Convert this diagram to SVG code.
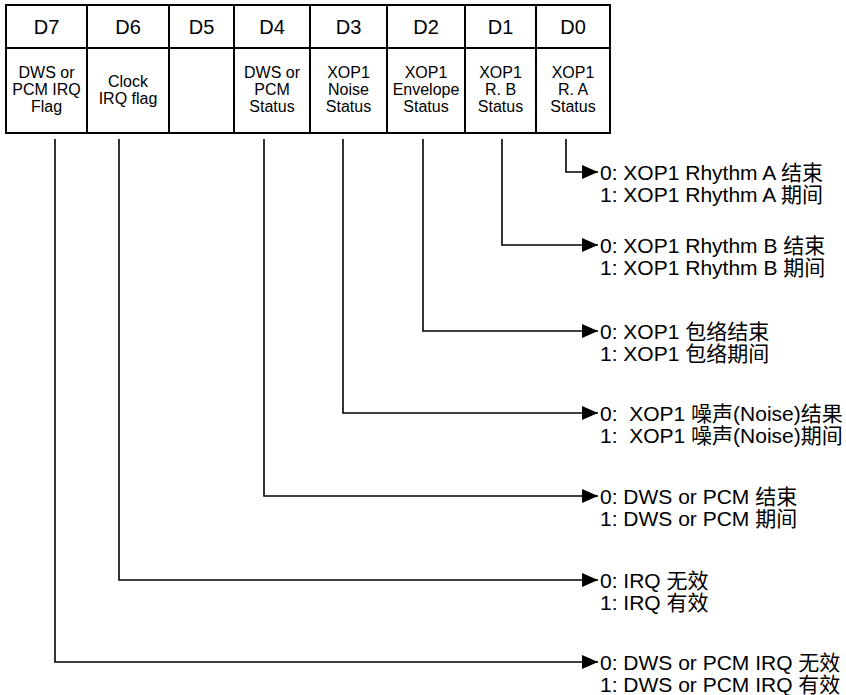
<svg xmlns="http://www.w3.org/2000/svg" width="846" height="695" viewBox="0 0 846 695">
<style>
.t{font-family:"Liberation Sans","Noto Sans CJK SC",Arial,sans-serif;fill:#000}
.h{font-size:20px;text-anchor:middle}
.c{font-size:16px;text-anchor:middle}
.r{font-size:21px}
.b{fill:none;stroke:#000;stroke-width:2}
.w{fill:none;stroke:#000;stroke-width:1.6}
</style>
<defs>
<marker id="ah" markerUnits="userSpaceOnUse" markerWidth="16" markerHeight="14" refX="16" refY="7" orient="auto">
<path d="M0,0 L16,7 L0,14 Z" fill="#000"/>
</marker>
</defs>
<rect width="846" height="695" fill="#fff"/>
<g id="table">
<rect class="b" x="6" y="5" width="604" height="128"/>
<line class="b" x1="6" y1="48" x2="610" y2="48"/>
<line class="b" x1="87" y1="5" x2="87" y2="133"/>
<line class="b" x1="169" y1="5" x2="169" y2="133"/>
<line class="b" x1="234" y1="5" x2="234" y2="133"/>
<line class="b" x1="310" y1="5" x2="310" y2="133"/>
<line class="b" x1="387" y1="5" x2="387" y2="133"/>
<line class="b" x1="465" y1="5" x2="465" y2="133"/>
<line class="b" x1="536" y1="5" x2="536" y2="133"/>
</g>
<g id="D7">
<text class="t h" x="46.5" y="34">D7</text>
<text class="t c" x="46.5" y="78">DWS or</text>
<text class="t c" x="46.5" y="95">PCM IRQ</text>
<text class="t c" x="46.5" y="112">Flag</text>
</g>
<g id="D6">
<text class="t h" x="128" y="34">D6</text>
<text class="t c" x="128" y="87">Clock</text>
<text class="t c" x="128" y="104">IRQ flag</text>
</g>
<g id="D5">
<text class="t h" x="201.5" y="34">D5</text>
</g>
<g id="D4">
<text class="t h" x="272" y="34">D4</text>
<text class="t c" x="272" y="78">DWS or</text>
<text class="t c" x="272" y="95">PCM</text>
<text class="t c" x="272" y="112">Status</text>
</g>
<g id="D3">
<text class="t h" x="348.5" y="34">D3</text>
<text class="t c" x="348.5" y="78">XOP1</text>
<text class="t c" x="348.5" y="95">Noise</text>
<text class="t c" x="348.5" y="112">Status</text>
</g>
<g id="D2">
<text class="t h" x="426" y="34">D2</text>
<text class="t c" x="426" y="78">XOP1</text>
<text class="t c" x="426" y="95">Envelope</text>
<text class="t c" x="426" y="112">Status</text>
</g>
<g id="D1">
<text class="t h" x="500.5" y="34">D1</text>
<text class="t c" x="500.5" y="78">XOP1</text>
<text class="t c" x="500.5" y="95">R. B</text>
<text class="t c" x="500.5" y="112">Status</text>
</g>
<g id="D0">
<text class="t h" x="573" y="34">D0</text>
<text class="t c" x="573" y="78">XOP1</text>
<text class="t c" x="573" y="95">R. A</text>
<text class="t c" x="573" y="112">Status</text>
</g>
<g id="connectors">
<path class="w" d="M566,139 V172 H598" marker-end="url(#ah)"/>
<path class="w" d="M502,139 V245 H598" marker-end="url(#ah)"/>
<path class="w" d="M423,139 V331 H598" marker-end="url(#ah)"/>
<path class="w" d="M343,139 V413 H598" marker-end="url(#ah)"/>
<path class="w" d="M264,139 V496 H598" marker-end="url(#ah)"/>
<path class="w" d="M119,139 V580 H598" marker-end="url(#ah)"/>
<path class="w" d="M55,139 V662 H598" marker-end="url(#ah)"/>
</g>
<g id="out-D0">
<text class="t r" x="600" y="179.5">0: XOP1 Rhythm A 结束</text>
<text class="t r" x="600" y="201.5">1: XOP1 Rhythm A 期间</text>
</g>
<g id="out-D1">
<text class="t r" x="600" y="252.5">0: XOP1 Rhythm B 结束</text>
<text class="t r" x="600" y="274.5">1: XOP1 Rhythm B 期间</text>
</g>
<g id="out-D2">
<text class="t r" x="600" y="338.5">0: XOP1 包络结束</text>
<text class="t r" x="600" y="360.5">1: XOP1 包络期间</text>
</g>
<g id="out-D3">
<text class="t r" x="600" y="420.5" xml:space="preserve">0:  XOP1 噪声(Noise)结果</text>
<text class="t r" x="600" y="442.5" xml:space="preserve">1:  XOP1 噪声(Noise)期间</text>
</g>
<g id="out-D4">
<text class="t r" x="600" y="503.5">0: DWS or PCM 结束</text>
<text class="t r" x="600" y="525.5">1: DWS or PCM 期间</text>
</g>
<g id="out-D6">
<text class="t r" x="600" y="587.5">0: IRQ 无效</text>
<text class="t r" x="600" y="609.5">1: IRQ 有效</text>
</g>
<g id="out-D7">
<text class="t r" x="600" y="669.5">0: DWS or PCM IRQ 无效</text>
<text class="t r" x="600" y="691.5">1: DWS or PCM IRQ 有效</text>
</g>
</svg>
